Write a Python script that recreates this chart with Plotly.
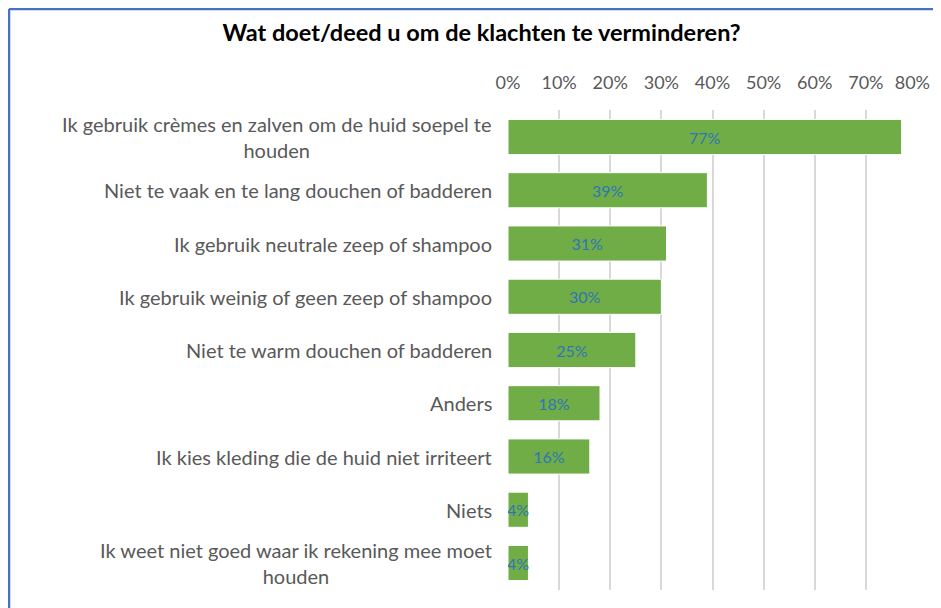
import plotly.graph_objects as go

categories = [
    "Ik gebruik crèmes en zalven om de huid soepel te<br>houden",
    "Niet te vaak en te lang douchen of badderen",
    "Ik gebruik neutrale zeep of shampoo",
    "Ik gebruik weinig of geen zeep of shampoo",
    "Niet te warm douchen of badderen",
    "Anders",
    "Ik kies kleding die de huid niet irriteert",
    "Niets",
    "Ik weet niet goed waar ik rekening mee moet<br>houden",
]
values = [0.77, 0.39, 0.31, 0.30, 0.25, 0.18, 0.16, 0.04, 0.04]
tick_vals = [0, 0.1, 0.2, 0.3, 0.4, 0.5, 0.6, 0.7, 0.8]
tick_text = ["0%", "10%", "20%", "30%", "40%", "50%", "60%", "70%", "80%"]

font = "Lato, Open Sans, sans-serif"

# last tick label sits right at the edge; trailing no-break spaces nudge it inward
tick_text_shown = tick_text[:-1] + [tick_text[-1] + "\u00a0\u00a0"]

fig = go.Figure(go.Bar(
    x=values,
    y=categories,
    orientation="h",
    marker=dict(color="#70AD47", line=dict(color="#ffffff", width=1)),
    text=[f"{v:.0%}" for v in values],
    textposition="inside",
    insidetextanchor="middle",
    textangle=0,
    textfont=dict(color="#2E75B6", size=16, family=font),
    constraintext="none",
    width=0.66,
))

# category labels as annotations so wrapped lines are centred like the original
for c in categories:
    fig.add_annotation(
        x=0, xref="paper", xanchor="right", xshift=-14,
        y=c, yref="y", text=c, showarrow=False, align="center",
        font=dict(size=20, color="#595959", family=font),
    )

# page body has an 8px margin, so the figure is a bit smaller than the window
fig.update_layout(
    width=925, height=600,
    margin=dict(l=500, r=16, t=102, b=18, autoexpand=False),
    paper_bgcolor="white", plot_bgcolor="white",
    title=dict(text="<b>Wat doet/deed u om de klachten te verminderen?</b>",
               x=0.512, xanchor="center", y=0.958, yanchor="middle",
               font=dict(size=23.5, color="#000000", family=font)),
    uniformtext=dict(minsize=16, mode="show"),
    showlegend=False,
    bargap=0.34,
    xaxis=dict(side="top", range=[0, 0.8], tickvals=tick_vals, ticktext=tick_text_shown,
               showgrid=True, gridcolor="#D9D9D9", gridwidth=1.5, zeroline=False,
               tickfont=dict(size=18, color="#595959", family=font), ticks="",
               ticklabelstandoff=16, ticklabeloverflow="allow", automargin=False),
    yaxis=dict(autorange="reversed", showticklabels=False, showgrid=False,
               zeroline=False, showline=False, automargin=False),
    shapes=[
        dict(type="line", xref="paper", yref="paper", x0=-1.22, x1=1.1,
             y0=1.2104, y1=1.2104, line=dict(color="#4472C4", width=2.5)),
        dict(type="line", xref="paper", yref="paper", x0=-1.22, x1=-1.22,
             y0=1.2104, y1=-0.1, line=dict(color="#4472C4", width=2.5)),
    ],
)

fig.write_html("out.html")
